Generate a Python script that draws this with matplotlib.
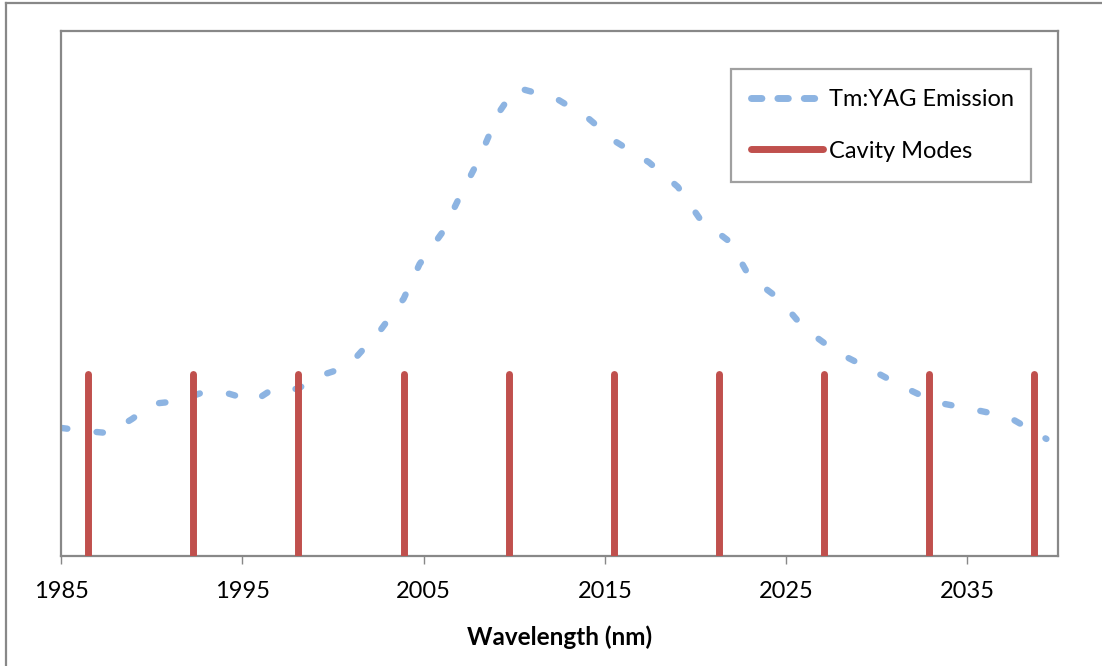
import matplotlib.pyplot as plt
from matplotlib.lines import Line2D

# Tm:YAG emission (arbitrary units)
wavelength = [1985.00, 1986.38, 1987.65, 1988.92, 1990.08, 1991.46, 1992.85, 1994.28,
              1995.66, 1996.77, 1998.04, 1999.25, 2000.58, 2001.24, 2002.62, 2003.90,
              2004.78, 2006.05, 2006.99, 2007.98, 2008.81, 2009.14, 2009.81, 2010.08,
              2010.36, 2012.29, 2014.01, 2015.61, 2017.43, 2019.03, 2020.25, 2021.91,
              2022.96, 2024.61, 2025.99, 2027.76, 2029.53, 2031.35, 2033.23, 2035.22,
              2037.27, 2039.36]
emission = [0.244, 0.238, 0.234, 0.261, 0.290, 0.295, 0.312, 0.309,
            0.295, 0.320, 0.318, 0.343, 0.358, 0.377, 0.430, 0.490,
            0.556, 0.617, 0.684, 0.750, 0.817, 0.844, 0.878, 0.891,
            0.890, 0.872, 0.836, 0.789, 0.750, 0.703, 0.642, 0.598,
            0.533, 0.490, 0.434, 0.389, 0.358, 0.324, 0.293, 0.280,
            0.265, 0.223]

# cavity modes
mode_wl = [1986.49, 1992.29, 1998.09, 2003.90, 2009.70, 2015.50, 2021.30, 2027.10, 2032.90, 2038.70]
mode_height = 0.347

xticks = [1985, 1995, 2005, 2015, 2025, 2035]

plt.rcParams['font.family'] = ['Lato', 'DejaVu Sans']

fig = plt.figure(figsize=(11.02, 6.66), dpi=100)
ax = fig.add_axes([61/1102, 110/666, 997/1102, 525/666])

blue = '#8DB4E2'
red = '#C0504D'

ax.plot(wavelength, emission, color=blue, lw=4.6, dashes=(1.0, 4.6),
        dash_capstyle='round', solid_joinstyle='round', zorder=2)
ax.vlines(mode_wl, 0, mode_height, colors=red, lw=5, zorder=3, capstyle='round')

ax.set_xlim(1985, 2040)
ax.set_ylim(0, 1)
ax.set_xticks(xticks)
ax.set_xticklabels([str(t) for t in xticks], fontsize=17)
ax.set_yticks([])
ax.tick_params(axis='x', direction='out', length=6, width=1, color='#888888', pad=12)
for s in ax.spines.values():
    s.set_color('#888888')
    s.set_linewidth(1.6)
ax.set_xlabel('Wavelength (nm)', fontsize=17.5, fontweight='bold', labelpad=17)

handles = [Line2D([], [], color=blue, lw=5, dashes=(1.5, 2.3), dash_capstyle='round'),
           Line2D([], [], color=red, lw=5, solid_capstyle='round')]
leg = ax.legend(handles, ['Tm:YAG Emission', 'Cavity Modes'], loc='upper left',
                bbox_to_anchor=(670/997, 1 - 144/525, 300/997, 106/525), mode='expand',
                borderaxespad=0, fontsize=17, frameon=True, fancybox=False, borderpad=0.85,
                handlelength=3.05, handletextpad=0.25, labelspacing=1.3)
leg.get_frame().set_edgecolor('#888888')
leg.get_frame().set_linewidth(1.6)

# outer chart border (top and left visible)
fig.add_artist(Line2D([6/1102, 6/1102], [0, 1 - 3/666], transform=fig.transFigure, color='#888888', lw=1.6))
fig.add_artist(Line2D([6/1102, 1], [1 - 3/666, 1 - 3/666], transform=fig.transFigure, color='#888888', lw=1.6))

fig.savefig('out.png', dpi=100)
